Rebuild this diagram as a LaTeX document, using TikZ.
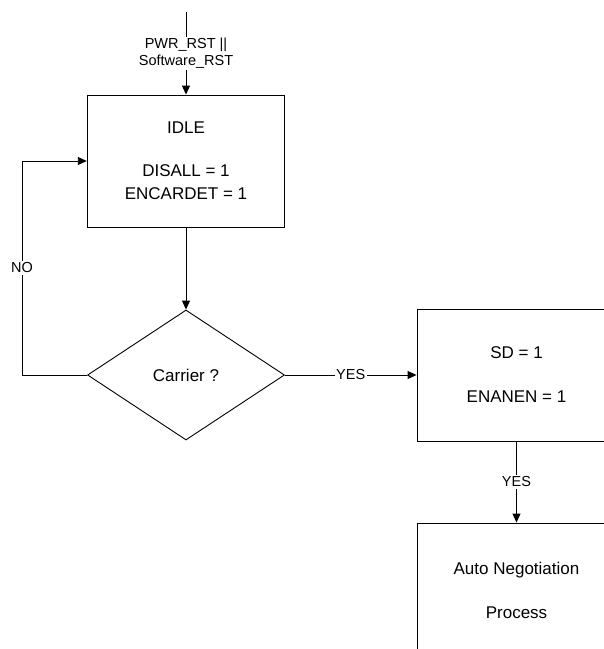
\documentclass[tikz,border=0pt]{standalone}
\usepackage{fontspec}
\setmainfont{Liberation Sans}
\usetikzlibrary{arrows.meta,shapes.geometric}
\begin{document}
\begin{tikzpicture}[x=1pt,y=-1pt,
  line width=0.9pt,
  arr/.style={-{Triangle[length=9pt,width=8pt]}},
  box/.style={draw,rectangle,inner sep=0pt,align=center,
    font=\fontsize{17}{23}\selectfont},
  dec/.style={draw,diamond,inner sep=0pt,aspect=1.515,
    minimum width=197pt,minimum height=130pt,
    font=\fontsize{17}{23}\selectfont},
  lbl/.style={fill=white,inner sep=1.5pt,align=center,
    font=\fontsize{14.5}{17}\selectfont}]
\clip (0,0) rectangle (604,649);
\useasboundingbox (0,0) rectangle (604,649);
% nodes
\coordinate (start) at (186,12);
\node[box,minimum width=197.5pt,minimum height=132pt] (idle) at (186,161)
  {IDLE\\[20pt]DISALL = 1\\ENCARDET = 1};
\node[dec] (carrier) at (186,375) {Carrier ?};
\node[box,minimum width=199pt,minimum height=132pt] (sd) at (516.5,375)
  {SD = 1\\[21pt]ENANEN = 1};
\node[box,minimum width=199pt,minimum height=134pt] (auto) at (516.5,590)
  {Auto Negotiation\\[21pt]Process};
\coordinate (loopb) at (22,375);
\coordinate (loopt) at (22,161);
% connectors
\draw[arr] (start) -- node[lbl,pos=0.5] {PWR\_RST ||\\Software\_RST} (idle.north);
\draw[arr] (idle.south) -- (carrier.north);
\draw[arr] (carrier.west) -- (loopb) -- node[lbl,pos=0.5,yshift=0pt] {NO} (loopt) -- (idle.west);
\draw[arr] (carrier.east) -- node[lbl,pos=0.5] {YES} (sd.west);
\draw[arr] (sd.south) -- node[lbl,pos=0.5] {YES} (auto.north);
\end{tikzpicture}
\end{document}
